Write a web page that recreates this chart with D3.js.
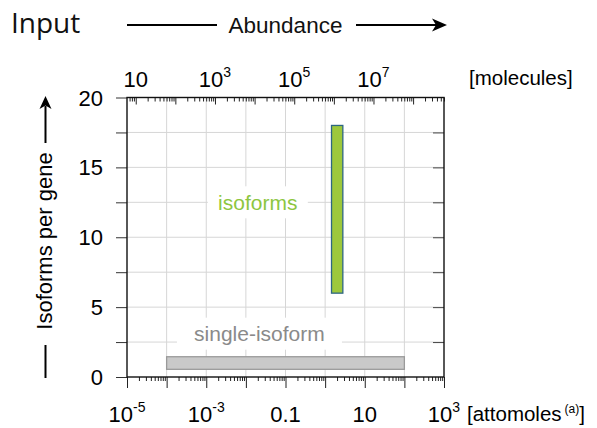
<!DOCTYPE html>
<html>
<head>
<meta charset="utf-8">
<script src="https://cdn.jsdelivr.net/npm/d3@7"></script>
<style>
  body { margin: 0; background: #fff; }
  svg { display: block; }
  text { font-family: "Liberation Sans", Arial, sans-serif; }
</style>
</head>
<body>
<svg id="chart" width="597" height="428"></svg>
<script>
// ---- data ----
const attoTickValues = [1e-5, 1e-3, 0.1, 10, 1e3];
const attoTickBase   = ["10", "10", "0.1", "10", "10"];
const attoTickExp    = ["-5", "-3", "", "", "3"];

const molTickValues = [10, 1e3, 1e5, 1e7];
const molTickBase   = ["10", "10", "10", "10"];
const molTickExp    = ["", "3", "5", "7"];

const yTickValues = [0, 5, 10, 15, 20];
const yGridValues = [2.5, 5, 7.5, 10, 12.5, 15, 17.5];

// ranges of the two gene groups (x in attomoles, y in isoforms per gene)
const groupNames = ["isoforms", "single-isoform"];
const groupX0    = [1.45, 1e-4];
const groupX1    = [2.8, 100];
const groupY0    = [6, 0.55];
const groupY1    = [18, 1.45];
// where the group labels sit (attomoles, isoforms)
const labelX = [0.02, 0.022];
const labelY = [12.5, 3.1];

const MOLECULES_PER_ATTOMOLE = 6.02214e5;

// ---- layout ----
const svg = d3.select("#chart");
const L = 127, R = 444, T = 97.5, B = 377;

const x = d3.scaleLog().domain([1e-5, 1e3]).range([L, R]);
const xTop = d3.scaleLog()
    .domain([1e-5 * MOLECULES_PER_ATTOMOLE, 1e3 * MOLECULES_PER_ATTOMOLE])
    .range([L, R]);
const y = d3.scaleLinear().domain([0, 20]).range([B, T]);

function decades(lo, hi) { return d3.range(lo, hi + 1).map(function(e){ return Math.pow(10, e); }); }
function minors(lo, hi, dom)
{
    var out = [];
    for (var e = lo; e <= hi; e++)
        for (var k = 2; k <= 9; k++)
        {
            var v = k * Math.pow(10, e);
            if (v >= dom[0] && v <= dom[1]) out.push(v);
        }
    return out;
}

// gridlines
const grid = svg.append("g").attr("stroke", "#d6d6d6").attr("stroke-width", 1);
grid.selectAll(".gx").data(decades(-4, 2)).enter().append("line")
    .attr("x1", function(d){ return x(d); }).attr("x2", function(d){ return x(d); })
    .attr("y1", T).attr("y2", B);
grid.selectAll(".gy").data(yGridValues).enter().append("line")
    .attr("x1", L).attr("x2", R)
    .attr("y1", function(d){ return y(d); }).attr("y2", function(d){ return y(d); });

// label backgrounds
const labelColor = ["#8dc63f", "#8a8a8a"];
const labelW = [100, 165];
svg.selectAll(".lbg").data(groupNames).enter().append("rect")
    .attr("x", function(d, i){ return x(labelX[i]) - labelW[i] / 2; })
    .attr("y", function(d, i){ return y(labelY[i]) - 16; })
    .attr("width", function(d, i){ return labelW[i]; })
    .attr("height", 32)
    .attr("fill", "#fff");

// bars
const barFill = ["#9dc83c", "#c9c9c9"];
const barStroke = ["#2e6682", "#9a9a9a"];
svg.selectAll(".bar").data(groupNames).enter().append("rect")
    .attr("x", function(d, i){ return x(groupX0[i]); })
    .attr("width", function(d, i){ return x(groupX1[i]) - x(groupX0[i]); })
    .attr("y", function(d, i){ return y(groupY1[i]); })
    .attr("height", function(d, i){ return y(groupY0[i]) - y(groupY1[i]); })
    .attr("fill", function(d, i){ return barFill[i]; })
    .attr("stroke", function(d, i){ return barStroke[i]; })
    .attr("stroke-width", 1.3);

svg.selectAll(".lbl").data(groupNames).enter().append("text")
    .attr("x", function(d, i){ return x(labelX[i]); })
    .attr("y", function(d, i){ return y(labelY[i]) + 7.5; })
    .attr("text-anchor", "middle")
    .attr("font-size", 21)
    .attr("fill", function(d, i){ return labelColor[i]; })
    .text(function(d){ return d; });

// axes
function styleAxis(g, color)
{
    g.select(".domain").remove();
    g.selectAll(".tick line").attr("stroke", color || "#222");
    g.selectAll(".tick text").remove();
}

svg.append("g").attr("transform", "translate(0," + B + ")")
    .call(d3.axisBottom(x).tickValues(minors(-5, 2, x.domain())).tickSize(4).tickSizeOuter(0))
    .call(styleAxis);
svg.append("g").attr("transform", "translate(0," + B + ")")
    .call(d3.axisBottom(x).tickValues(decades(-5, 3)).tickSize(11).tickSizeOuter(0))
    .call(styleAxis);

svg.append("g").attr("transform", "translate(0," + T + ")")
    .call(d3.axisBottom(xTop).tickValues(minors(0, 8, xTop.domain())).tickSize(4).tickSizeOuter(0))
    .call(styleAxis);
svg.append("g").attr("transform", "translate(0," + T + ")")
    .call(d3.axisBottom(xTop).tickValues(decades(1, 8)).tickSize(7).tickSizeOuter(0))
    .call(styleAxis);

svg.append("g").attr("transform", "translate(" + L + ",0)")
    .call(d3.axisLeft(y).tickValues([0].concat(yGridValues, [20])).tickSize(11).tickSizeOuter(0))
    .call(function(g){ styleAxis(g, "#333"); });
svg.append("g").attr("transform", "translate(" + R + ",0)")
    .call(d3.axisLeft(y).tickValues(yGridValues).tickSize(11).tickSizeOuter(0))
    .call(function(g){ styleAxis(g, "#444"); });

// frame
svg.append("rect").attr("x", L).attr("y", T).attr("width", R - L).attr("height", B - T)
    .attr("fill", "none").attr("stroke", "#111").attr("stroke-width", 1.4);

// tick labels
function powLabel(sel, base, exp)
{
    sel.append("tspan").text(function(d, i){ return base[i]; });
    sel.append("tspan").attr("dy", -10).attr("font-size", 14)
        .text(function(d, i){ return exp[i]; });
}

svg.selectAll(".xb").data(attoTickValues).enter().append("text")
    .attr("x", function(d){ return x(d); })
    .attr("y", 422)
    .attr("text-anchor", "middle")
    .attr("font-size", 22)
    .call(powLabel, attoTickBase, attoTickExp);

svg.selectAll(".xt").data(molTickValues).enter().append("text")
    .attr("x", function(d){ return xTop(d); })
    .attr("y", 86.5)
    .attr("text-anchor", "middle")
    .attr("font-size", 22)
    .call(powLabel, molTickBase, molTickExp);

svg.selectAll(".yl").data(yTickValues).enter().append("text")
    .attr("x", 103)
    .attr("y", function(d){ return y(d) + 8; })
    .attr("text-anchor", "end")
    .attr("font-size", 22)
    .text(function(d){ return d; });

// units
svg.append("text").attr("x", 469).attr("y", 85).attr("font-size", 20.5).text("[molecules]");
const unit = svg.append("text").attr("x", 467).attr("y", 421).attr("font-size", 20.5);
unit.append("tspan").text("[attomoles");
unit.append("tspan").attr("dx", 3).attr("dy", -8).attr("font-size", 12).text("(a)");
unit.append("tspan").attr("dy", 8).text("]");

// title row
svg.append("text").attr("x", 11).attr("y", 33)
    .style("font-family", "'Open Sans', 'Noto Sans', sans-serif")
    .attr("font-size", 28).attr("fill", "#111").text("Input");
svg.append("text").attr("x", 285.5).attr("y", 33).attr("text-anchor", "middle")
    .attr("font-size", 22.5).attr("fill", "#111").text("Abundance");

const arrows = svg.append("g").attr("stroke", "#000").attr("stroke-width", 2);
arrows.append("line").attr("x1", 127).attr("x2", 217).attr("y1", 25).attr("y2", 25);
arrows.append("line").attr("x1", 356).attr("x2", 438).attr("y1", 25).attr("y2", 25);
svg.append("path").attr("d", "M447,25 L432,18.5 L436,25 L432,31.5 Z").attr("fill", "#000");

// y title
svg.append("text")
    .attr("transform", "translate(52,241) rotate(-90)")
    .attr("text-anchor", "middle")
    .attr("font-size", 22)
    .text("Isoforms per gene");
arrows.append("line").attr("x1", 45.5).attr("x2", 45.5).attr("y1", 378).attr("y2", 345);
arrows.append("line").attr("x1", 45.5).attr("x2", 45.5).attr("y1", 143).attr("y2", 106);
svg.append("path").attr("d", "M45.5,96 L39.5,109 L45.5,105.5 L51.5,109 Z").attr("fill", "#000");
</script>
</body>
</html>
